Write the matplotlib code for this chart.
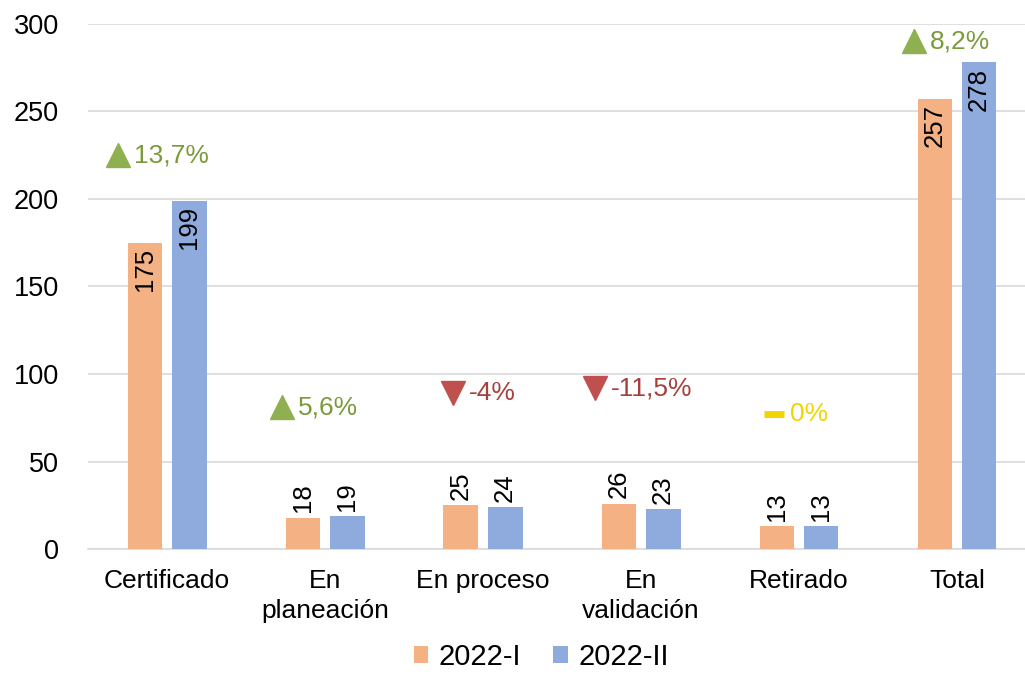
import matplotlib
matplotlib.use('Agg')
import matplotlib.pyplot as plt
import numpy as np

# datos
categorias = ['Certificado', 'En\nplaneación', 'En proceso', 'En\nvalidación', 'Retirado', 'Total']
serie_2022_1 = [175, 18, 25, 26, 13, 257]
serie_2022_2 = [199, 19, 24, 23, 13, 278]
variacion = ['13,7%', '5,6%', '-4%', '-11,5%', '0%', '8,2%']
tendencia = ['up', 'up', 'down', 'down', 'flat', 'up']
nombres_series = ['2022-I', '2022-II']

# estilo
col_1 = '#F4B183'
col_2 = '#8FAADC'
estilos = {
    'up': dict(marker='^', color='#8FB050', text='#7A9A3C'),
    'down': dict(marker='v', color='#C0504D', text='#A5403D'),
    'flat': dict(marker='_', color='#F2D500', text='#F2D500'),
}
# posicion de las anotaciones (altura y desplazamiento horizontal del icono)
anot_y = [225, 81, 89, 92, 77, 290]
anot_dx = [-0.31, -0.27, -0.19, -0.29, -0.16, -0.27]
dentro = [True, False, False, False, False, True]

plt.rcParams['font.family'] = ['Liberation Sans', 'DejaVu Sans']

fig = plt.figure(figsize=(10.25, 6.78), dpi=100)
ax = fig.add_axes([88 / 1025, 0.19, 948 / 1025, 0.965 - 0.19])

x = np.arange(len(categorias))
w = 0.22
off = 0.14
b1 = ax.bar(x - off, serie_2022_1, w, color=col_1, label=nombres_series[0], zorder=3)
b2 = ax.bar(x + off, serie_2022_2, w, color=col_2, label=nombres_series[1], zorder=3)

for bars, vals in [(b1, serie_2022_1), (b2, serie_2022_2)]:
    for i, (b, v) in enumerate(zip(bars, vals)):
        cx = b.get_x() + b.get_width() / 2
        if dentro[i]:
            ax.text(cx, v - 3, str(v), rotation=90, ha='center', va='top',
                    fontsize=18.5, color='black', zorder=4)
        else:
            ax.text(cx, v + 3, str(v), rotation=90, ha='center', va='bottom',
                    fontsize=18.5, color='black', zorder=4)

for i in range(len(categorias)):
    st = estilos[tendencia[i]]
    mx = x[i] + anot_dx[i]
    if tendencia[i] == 'flat':
        ax.plot(mx, anot_y[i], marker='_', markersize=15, markeredgewidth=5,
                color=st['color'], zorder=4)
    else:
        ax.plot(mx, anot_y[i], marker=st['marker'], markersize=17,
                color=st['color'], linestyle='none', zorder=4)
    ax.text(mx + 0.1, anot_y[i], variacion[i], ha='left', va='center',
            fontsize=19, color=st['text'], zorder=4)

ax.set_xlim(-0.5, len(categorias) - 0.5)
ax.set_ylim(0, 300)
ax.set_yticks(range(0, 301, 50))
ax.set_xticks(x)
ax.set_xticklabels(categorias, fontsize=19, linespacing=1.35)
ax.tick_params(axis='y', labelsize=19.5, length=0, pad=21)
ax.tick_params(axis='x', length=0, pad=14)
ax.grid(axis='y', color='#D9D9D9', linewidth=1.2, zorder=0)
for s in ['top', 'right', 'left']:
    ax.spines[s].set_visible(False)
ax.spines['bottom'].set_color('#D9D9D9')
ax.spines['bottom'].set_linewidth(1.2)

fig.legend(loc='lower center', bbox_to_anchor=(0.528, -0.028), ncol=2, frameon=False,
           fontsize=21, handlelength=0.5, handleheight=0.5, handletextpad=0.35,
           columnspacing=1.1)

fig.savefig('out.png', dpi=100)
